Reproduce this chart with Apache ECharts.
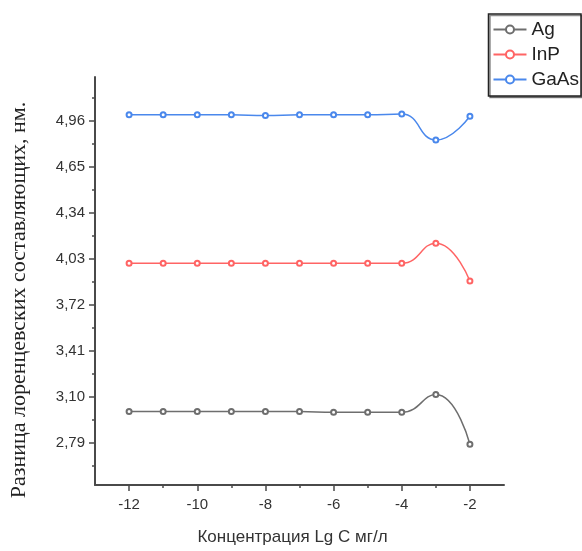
<!DOCTYPE html>
<html>
<head>
<meta charset="utf-8">
<script src="https://cdn.jsdelivr.net/npm/echarts@6/dist/echarts.min.js"></script>
<style>
  html, body { margin: 0; padding: 0; background: #ffffff; }
  #chart { width: 582px; height: 551px; }
</style>
</head>
<body>
<div id="chart"></div>
<script>
// Concentration (lg C, mg/l) and the Lorentz-component difference (nm) per material
const concentration = [-12, -11, -10, -9, -8, -7, -6, -5, -4, -3, -2];
const agValues   = [3.00, 3.00, 3.00, 3.00, 3.00, 3.00, 2.995, 2.995, 2.995, 3.115, 2.78];
const inpValues  = [4.00, 4.00, 4.00, 4.00, 4.00, 4.00, 4.00, 4.00, 4.00, 4.135, 3.88];
const gaasValues = [5.00, 5.00, 5.00, 5.00, 4.995, 5.00, 5.00, 5.00, 5.005, 4.83, 4.99];

const seriesNames = ['Ag', 'InP', 'GaAs'];

// Tick positions
const yTickLabels = [2.79, 3.10, 3.41, 3.72, 4.03, 4.34, 4.65, 4.96];
const yMinorTicks = [2.635, 2.945, 3.255, 3.565, 3.875, 4.185, 4.495, 4.805, 5.115];
const xTickLabels = [-12, -10, -8, -6, -4, -2];
const xMinorTicks = [-11, -9, -7, -5, -3];

const sansFont = "'Liberation Sans', Arial, sans-serif";
const axisColor = '#4a4a4a';

function pairs(values) {
  return concentration.map((x, i) => [x, values[i]]);
}

function lineSeries(name, values, color) {
  return {
    name: name,
    type: 'line',
    xAxisIndex: 0,
    yAxisIndex: 0,
    data: pairs(values),
    smooth: 0.5,
    symbol: 'emptyCircle',
    symbolSize: 5,
    showAllSymbol: true,
    lineStyle: { color: color, width: 1.5 },
    itemStyle: { color: color, borderColor: color, borderWidth: 1 },
    emphasis: { disabled: true },
    z: 3
  };
}

const chart = echarts.init(document.getElementById('chart'), null, { renderer: 'canvas' });

chart.setOption({
  animation: false,
  backgroundColor: '#ffffff',
  grid: { left: 91, right: 78, top: 77, bottom: 62.5, containLabel: false },
  legend: {
    data: seriesNames,
    orient: 'vertical',
    right: 1,
    top: 14,
    padding: [5, 2, 6, 4],
    itemGap: 4,
    itemWidth: 33,
    itemHeight: 10,
    borderColor: '#222222',
    borderWidth: 1.5,
    backgroundColor: '#ffffff',
    shadowColor: 'rgba(0,0,0,0.45)',
    shadowOffsetX: 1.5,
    shadowOffsetY: 1.5,
    textStyle: { fontFamily: sansFont, fontSize: 19, color: '#222222', lineHeight: 21 }
  },
  xAxis: [
    {
      type: 'value',
      min: -13,
      max: -1,
      position: 'bottom',
      name: 'Концентрация Lg C мг/л',
      nameLocation: 'middle',
      nameGap: 44,
      nameTextStyle: { fontFamily: sansFont, fontSize: 17, color: '#333333', padding: [0, 14, 0, 0] },
      axisLine: { show: true, onZero: false, lineStyle: { color: axisColor, width: 2 } },
      axisTick: { show: true, inside: false, length: 6, customValues: xTickLabels, lineStyle: { color: axisColor, width: 1.5 } },
      axisLabel: { customValues: xTickLabels, margin: 12, fontFamily: sansFont, fontSize: 15, color: '#333333' },
      splitLine: { show: false }
    },
    {
      type: 'value',
      min: -13,
      max: -1,
      position: 'bottom',
      axisLine: { show: false, onZero: false },
      axisTick: { show: true, inside: false, length: 3, customValues: xMinorTicks, lineStyle: { color: axisColor, width: 1.5 } },
      axisLabel: { show: false, customValues: xMinorTicks },
      splitLine: { show: false }
    }
  ],
  yAxis: [
    {
      type: 'value',
      min: 2.505,
      max: 5.255,
      position: 'left',
      name: 'Разница лоренцевских составляющих, нм.',
      nameLocation: 'middle',
      nameGap: 65,
      nameRotate: 90,
      nameTextStyle: { fontFamily: "'Liberation Serif', 'Times New Roman', serif", fontSize: 22, color: '#222222', padding: [0, 38, 0, 0] },
      axisLine: { show: true, onZero: false, lineStyle: { color: axisColor, width: 2 } },
      axisTick: { show: true, inside: false, length: 6, customValues: yTickLabels, lineStyle: { color: axisColor, width: 1.5 } },
      axisLabel: {
        customValues: yTickLabels,
        margin: 10,
        fontFamily: sansFont,
        fontSize: 15,
        color: '#333333',
        formatter: v => v.toFixed(2).replace('.', ',')
      },
      splitLine: { show: false }
    },
    {
      type: 'value',
      min: 2.505,
      max: 5.255,
      position: 'left',
      axisLine: { show: false, onZero: false },
      axisTick: { show: true, inside: false, length: 3, customValues: yMinorTicks, lineStyle: { color: axisColor, width: 1.5 } },
      axisLabel: { show: false, customValues: yMinorTicks },
      splitLine: { show: false }
    }
  ],
  series: [
    lineSeries('Ag', agValues, '#6e6e6e'),
    lineSeries('InP', inpValues, '#ff6464'),
    lineSeries('GaAs', gaasValues, '#4a88ec')
  ]
});
</script>
</body>
</html>
